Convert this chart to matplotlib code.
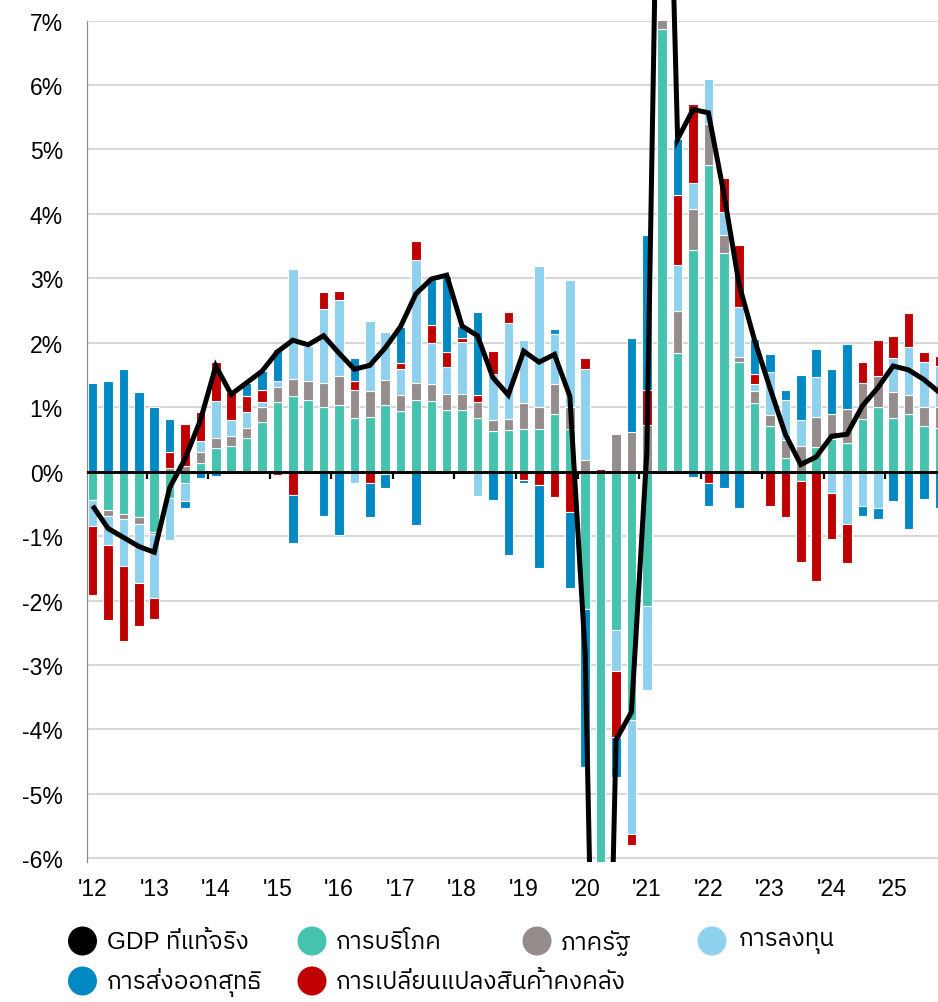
import numpy as np
import matplotlib
matplotlib.use('Agg')
import matplotlib.pyplot as plt
from matplotlib import font_manager as fm
from matplotlib.ft2font import FT2Font
from matplotlib.transforms import Bbox, TransformedBbox

# ---------------- data (contributions to real GDP growth, % y/y) ----------------
year_labels = ["'12", "'13", "'14", "'15", "'16", "'17", "'18", "'19",
               "'20", "'21", "'22", "'23", "'24", "'25"]

consumption = [-0.44, -0.59, -0.66, -0.71, -0.93, -0.41, -0.18, 0.13,
               0.36, 0.40, 0.52, 0.77, 1.08, 1.17, 1.11, 1.00,
               1.04, 0.84, 0.85, 1.04, 0.94, 1.12, 1.10, 0.95,
               0.95, 0.83, 0.63, 0.64, 0.67, 0.67, 0.90, 0.66,
               -2.13, -8.00, -2.45, -3.85, -2.08, 6.87, 1.84, 3.44,
               4.76, 3.40, 1.70, 1.06, 0.71, 0.22, -0.14, 0.38,
               0.50, 0.45, 0.82, 1.00, 0.84, 0.89, 0.71, 0.68]
government = [0.00, -0.10, -0.08, -0.10, -0.03, 0.05, 0.09, 0.17,
              0.17, 0.15, 0.16, 0.23, 0.23, 0.27, 0.30, 0.38,
              0.45, 0.42, 0.40, 0.39, 0.25, 0.26, 0.26, 0.25,
              0.26, 0.25, 0.17, 0.18, 0.39, 0.34, 0.46, 0.35,
              0.18, -1.00, 0.58, 0.62, 0.72, 0.60, 0.65, 0.64,
              0.63, 0.28, 0.08, 0.19, 0.17, 0.27, 0.40, 0.47,
              0.40, 0.53, 0.55, 0.49, 0.40, 0.30, 0.30, 0.32]
investment = [-0.40, -0.45, -0.72, -0.92, -1.00, -0.65, -0.27, 0.18,
              0.57, 0.25, 0.24, 0.08, 0.10, 1.71, 0.54, 1.14,
              1.17, -0.18, 1.09, 0.73, 0.41, 1.90, 0.64, 0.43,
              0.80, -0.37, 0.71, 1.48, 0.99, 2.18, 0.78, 1.97,
              1.42, -3.50, -0.64, -1.77, -1.31, 3.50, 0.72, 0.40,
              0.71, 0.35, 0.77, 0.11, 0.67, 0.62, 0.40, 0.62,
              -0.33, -0.81, -0.53, -0.56, 0.53, 0.75, 0.69, 0.64]
inventories = [-1.07, -1.16, -1.17, -0.67, -0.32, 0.25, 0.65, 0.45,
               0.60, 0.43, 0.25, 0.18, -0.05, -0.36, 0.00, 0.27,
               0.15, 0.15, -0.18, -0.03, 0.09, 0.30, 0.28, 0.22,
               0.06, 0.11, 0.36, 0.18, -0.13, -0.21, -0.40, -0.62,
               0.17, 0.04, -1.03, -0.18, 0.55, 1.20, 1.08, 1.23,
               -0.18, 0.53, 0.96, 0.15, -0.54, -0.70, -1.26, -1.70,
               -0.72, -0.60, 0.33, 0.56, 0.33, 0.53, 0.15, 0.16]
net_exports = [1.37, 1.40, 1.60, 1.23, 1.00, 0.51, -0.11, -0.10,
               -0.06, -0.04, 0.21, 0.30, 0.50, -0.75, 0.00, -0.69,
               -0.98, 0.36, -0.52, -0.22, 0.56, -0.82, 0.70, 1.19,
               0.19, 1.29, -0.44, -1.29, -0.05, -1.28, 0.08, -1.19,
               -2.46, -2.00, -0.62, 1.45, 2.41, 2.00, 0.87, -0.08,
               -0.35, -0.26, -0.57, 0.55, 0.28, 0.15, 0.70, 0.44,
               0.69, 1.00, -0.16, -0.18, -0.46, -0.89, -0.43, -0.56]
real_gdp = [-0.53, -0.88, -1.02, -1.16, -1.25, -0.25, 0.20, 0.80,
            1.64, 1.20, 1.38, 1.56, 1.86, 2.04, 1.97, 2.11,
            1.84, 1.59, 1.65, 1.92, 2.25, 2.76, 2.99, 3.05,
            2.26, 2.11, 1.46, 1.19, 1.87, 1.70, 1.82, 1.17,
            -2.85, -14.50, -4.16, -3.73, 0.30, 14.20, 5.16, 5.62,
            5.57, 4.32, 2.90, 2.04, 1.30, 0.58, 0.11, 0.23,
            0.55, 0.58, 1.02, 1.30, 1.64, 1.58, 1.43, 1.23]

series_names = ["GDP ที่แท้จริง", "การบริโภค", "ภาครัฐ", "การลงทุน",
                "การส่งออกสุทธิ", "การเปลี่ยนแปลงสินค้าคงคลัง"]
y_ticks = [7, 6, 5, 4, 3, 2, 1, 0, -1, -2, -3, -4, -5, -6]
y_tick_labels = ["7%", "6%", "5%", "4%", "3%", "2%", "1%", "0%",
                 "-1%", "-2%", "-3%", "-4%", "-5%", "-6%"]

# ---------------- styles ----------------
C_CONS = '#46C3AE'
C_GOV = '#958C8C'
C_INV = '#8ED1EF'
C_NX = '#0089C3'
C_STK = '#C00000'

# ---------------- fonts ----------------
def find_thai_font():
    cands = []
    for f in fm.fontManager.ttflist:
        try:
            cmap = FT2Font(f.fname).get_charmap()
        except Exception:
            continue
        if all(ord(c) in cmap for c in "กขคงจที่แท้ริภฐ"):
            cands.append(f.name)
    pref = [n for n in cands if ('Thai' in n) and ('Sans' in n or 'Looped' not in n)]
    pref2 = [n for n in cands if 'Sans' in n]
    allc = pref + pref2 + cands
    return allc[0] if allc else None

thai = find_thai_font()
families = ['Liberation Sans']
if thai:
    families.append(thai)
families.append('DejaVu Sans')
plt.rcParams['font.family'] = families

FS = 16.5
FS_LEG = 17.5

W, H = 938, 1003
fig = plt.figure(figsize=(W / 100, H / 100), dpi=100)
fig.patch.set_facecolor('white')

ax_left, ax_right, ax_top, ax_bot = 86.5, 947.0, 21.6, 863.2
ax = fig.add_axes([ax_left / W, 1 - ax_bot / H, (ax_right - ax_left) / W, (ax_bot - ax_top) / H])

n = len(real_gdp)
x = np.arange(n)
ax.set_xlim(-0.4, 55.5)
ax.set_ylim(-6.06, 7.0)

pos = np.zeros(n)
neg = np.zeros(n)
for vals, col in [(consumption, C_CONS), (government, C_GOV), (investment, C_INV),
                  (inventories, C_STK), (net_exports, C_NX)]:
    v = np.array(vals, dtype=float)
    bottom = np.where(v >= 0, pos, neg)
    ax.bar(x, v, width=0.62, bottom=bottom, color=col, edgecolor='white',
           linewidth=0.8, zorder=2)
    pos += np.clip(v, 0, None)
    neg += np.clip(v, None, 0)

# grid
ax.set_yticks(y_ticks)
ax.set_yticklabels(y_tick_labels, fontsize=FS)
ax.yaxis.grid(True, color='#D3D3D3', linewidth=1.3)
ax.set_axisbelow(True)
ax.tick_params(axis='y', length=0, pad=17)

# x labels at first quarter of each year
ax.set_xticks(np.arange(0, n, 4)[:len(year_labels)])
ax.set_xticklabels(year_labels, fontsize=FS)
ax.tick_params(axis='x', length=0, pad=11)

for s in ['top', 'right', 'bottom']:
    ax.spines[s].set_visible(False)
ax.spines['left'].set_color('#8C8C8C')
ax.spines['left'].set_linewidth(0.9)

# zero line and year boundary ticks
ax.axhline(0, color='black', linewidth=2.1, zorder=3)
bounds = np.arange(3.5, n, 4)
ax.vlines(bounds, -0.11, 0, color='black', linewidth=1.6, zorder=3)

# GDP line (allowed to run above the top of the plot area)
ln, = ax.plot(x, real_gdp, color='black', linewidth=3.6, zorder=5,
              solid_joinstyle='miter', solid_capstyle='butt')
ln.set_clip_path(None)
ln.set_clip_box(TransformedBbox(Bbox.from_extents(-0.4, -6.06, 55.5, 40), ax.transData))

# ---------------- legend ----------------
lax = fig.add_axes([0, 0, 1, 1], zorder=10)
lax.set_xlim(0, W)
lax.set_ylim(H, 0)
lax.axis('off')
leg_items = [
    (series_names[0], 'black', 82.5, 107, 942),
    (series_names[1], C_CONS, 312, 336, 942),
    (series_names[2], C_GOV, 537, 561, 942),
    (series_names[3], C_INV, 712, 739, 942),
    (series_names[4], C_NX, 82.5, 107, 982),
    (series_names[5], C_STK, 312, 336, 982),
]
for label, col, cx, tx, cy in leg_items:
    lax.scatter([cx], [cy], s=(29 * 0.72) ** 2, color=col, edgecolors='none')
    lax.text(tx, cy + 1, label, fontsize=FS_LEG, va='center', ha='left')

fig.savefig('out.png', dpi=100, facecolor='white')
